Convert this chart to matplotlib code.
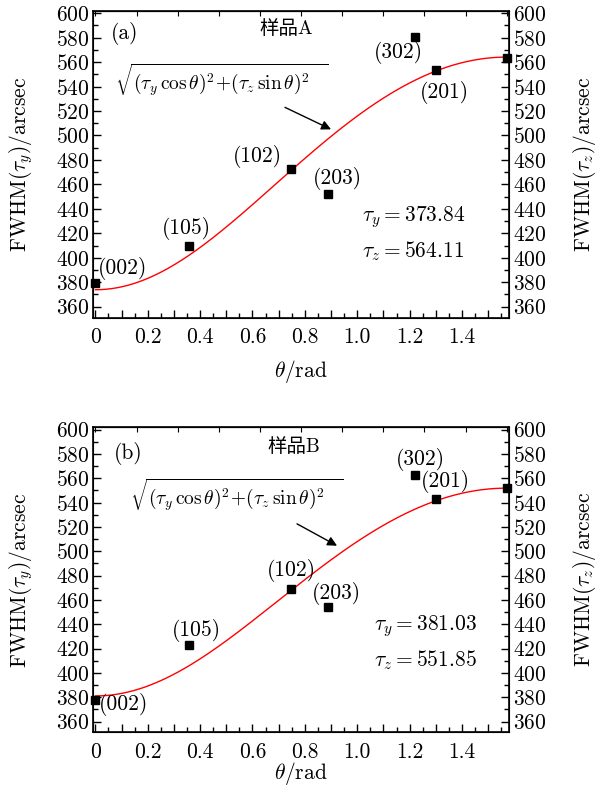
import numpy as np
import matplotlib
matplotlib.use("Agg")
import matplotlib.pyplot as plt
from matplotlib.ticker import MultipleLocator, FuncFormatter, FixedLocator

plt.rcParams['font.family'] = ['cmr10', 'Noto Sans CJK SC']
plt.rcParams['mathtext.fontset'] = 'cm'
plt.rcParams['axes.formatter.use_mathtext'] = True
plt.rcParams['font.size'] = 15.5
plt.rcParams['axes.unicode_minus'] = False

# angle of each reflection (rad)
theta = [0, 0.357, 0.748, 0.889, 1.221, 1.302, 1.571]
planes = ['(002)', '(105)', '(102)', '(203)', '(302)', '(201)', '']

# FWHM values, sample A and sample B
fwhm_a = [379.5, 409.8, 472.4, 451.8, 580.5, 553.7, 563.3]
fwhm_b = [378.0, 422.7, 469.3, 454.0, 562.5, 543.0, 552.3]

# fitted parameters
tau_a = (373.84, 564.11)
tau_b = (381.03, 551.85)

# label positions (data coords)
lab_pos_a = [(0.105, 391), (0.346, 424), (0.618, 482.5), (0.926, 464.5),
             (1.156, 568), (1.333, 535)]
lab_pos_b = [(0.109, 374), (0.385, 435), (0.749, 484), (0.919, 465.5),
             (1.24, 575.5), (1.337, 557)]

formula = r'$\sqrt{(\tau_y\,\cos\theta)^2\!+\!(\tau_z\,\sin\theta)^2\;\;\;}$'


def panel(fig, rect, y, tau, lab_pos, tag, name, f_xy, arr, t_xy, xl_y):
    ax = fig.add_axes(rect)
    th = np.linspace(0, np.pi / 2, 300)
    fit = np.sqrt((tau[0] * np.cos(th)) ** 2 + (tau[1] * np.sin(th)) ** 2)
    ax.plot(th, fit, color='red', lw=1.0, zorder=2)
    ax.plot(theta, y, 's', color='black', ms=5.5, zorder=3, clip_on=False)
    for lab, (lx, ly) in zip(planes, lab_pos):
        ax.text(lx, ly, lab, ha='center', va='center', fontsize=15.5)
    ax.text(*tag, ha='center', va='center', fontsize=15.5)
    ax.text(*name, ha='center', va='center', fontsize=14)
    ax.text(f_xy[0], f_xy[1], formula, ha='left', va='center', fontsize=14)
    ax.annotate('', xy=arr[1], xytext=arr[0],
                arrowprops=dict(arrowstyle='-|>', color='black', lw=1.0,
                                mutation_scale=14, shrinkA=0, shrinkB=0))
    ax.text(t_xy[0], t_xy[1], r'$\tau_y = %.2f$' % tau[0], ha='left', va='center', fontsize=15.5)
    ax.text(t_xy[0], t_xy[1] - 28, r'$\tau_z = %.2f$' % tau[1], ha='left', va='center', fontsize=15.5)

    ax.set_xlim(-0.008, 1.58)
    ax.set_ylim(351, 602)
    ax.xaxis.set_major_locator(MultipleLocator(0.1))
    ax.xaxis.set_minor_locator(MultipleLocator(0.05))
    ax.xaxis.set_major_formatter(FuncFormatter(
        lambda v, p: '' if round(v * 10) % 2 else ('0' if abs(v) < 1e-9 else '%.1f' % v)))
    ax.yaxis.set_major_locator(MultipleLocator(20))
    ax.yaxis.set_minor_locator(MultipleLocator(10))
    ax.tick_params(which='both', direction='in', width=1.0)
    ax.tick_params(which='major', length=6)
    ax.tick_params(which='minor', length=3.5)
    ax.tick_params(axis='x', which='major', pad=7)
    ax.tick_params(axis='y', which='major', pad=3)
    for s in ax.spines.values():
        s.set_linewidth(1.2)

    ax.set_xlabel(r'$\theta$/rad', fontsize=15.5)
    ax.xaxis.set_label_coords(0.5, xl_y)
    ax.set_ylabel(r'FWHM($\tau_y$)/arcsec', fontsize=15.5)
    ax.yaxis.set_label_coords(-0.14, 0.5)

    top = ax.secondary_xaxis('top')
    top.xaxis.set_major_locator(FixedLocator(np.arange(0, 11) * np.pi / 20))
    top.tick_params(direction='in', length=3.5, labeltop=False)

    rax = ax.twinx()
    rax.set_ylim(351, 602)
    rax.yaxis.set_major_locator(MultipleLocator(20))
    rax.yaxis.set_minor_locator(MultipleLocator(10))
    rax.tick_params(which='both', direction='in', width=1.0)
    rax.tick_params(which='major', length=6, pad=3)
    rax.tick_params(which='minor', length=3.5)
    rax.set_ylabel(r'FWHM($\tau_z$)/arcsec', fontsize=15.5)
    rax.yaxis.set_label_coords(1.15, 0.5)
    return ax


fig = plt.figure(figsize=(6, 7.91), dpi=100)

panel(fig, [0.1555, 0.5984, 0.693, 0.388], fwhm_a, tau_a, lab_pos_a,
      (0.112, 583, '(a)'), (0.727, 587, '样品A'), (0.075, 545),
      ((0.724, 523), (0.90, 505)), (1.017, 433), -0.13)

panel(fig, [0.1555, 0.074, 0.693, 0.386], fwhm_b, tau_b, lab_pos_b,
      (0.124, 580, '(b)'), (0.756, 585.5, '样品B'), (0.131, 546),
      ((0.77, 522.5), (0.923, 504.5)), (1.063, 438.6), -0.09)

fig.savefig('out.png', dpi=100)
